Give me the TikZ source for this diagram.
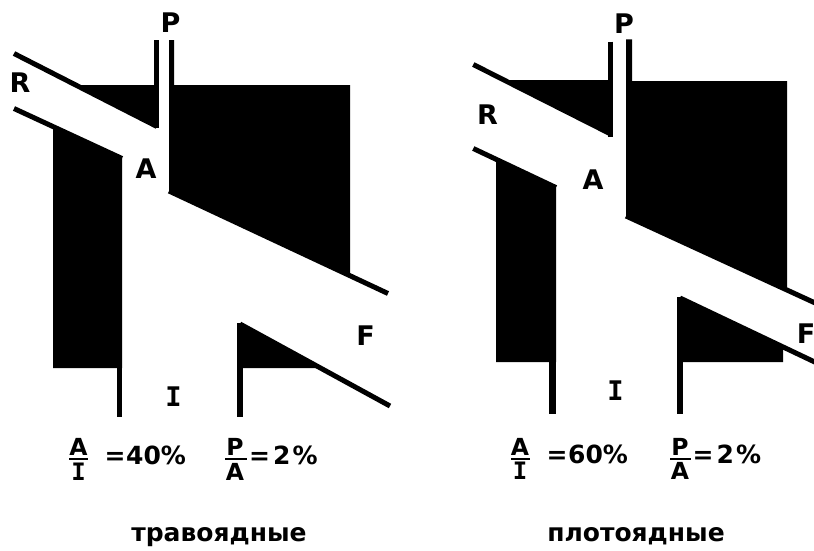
\documentclass[tikz,border=0pt]{standalone}
\usepackage{fontspec}
\setmainfont{DejaVu Sans}
\newfontfamily\serifmono{DejaVu Sans Mono Bold}
\begin{document}
\begin{tikzpicture}[x=1pt,y=-1pt,
  wall/.style={line width=5pt},
  lbl/.style={font=\fontsize{27}{27}\selectfont\bfseries, inner sep=0pt},
  lblI/.style={font=\fontsize{27}{27}\selectfont\serifmono, inner sep=0pt},
  frac/.style={font=\fontsize{23.5}{23.5}\selectfont\bfseries, inner sep=0pt},
  fracI/.style={font=\fontsize{24}{24}\selectfont\serifmono, inner sep=0pt},
  eqtxt/.style={font=\fontsize{25}{25}\selectfont\bfseries, inner sep=0pt, anchor=base west},
  word/.style={font=\fontsize{25}{25}\selectfont\bfseries, inner sep=0pt, anchor=base},
  bar/.style={line width=2pt}]
\useasboundingbox (0,0) rectangle (814,550);
\clip (0,0) rectangle (814,550);

% ---------------- left diagram (herbivores) ----------------
% upper R wall and triangle
\fill (75,85) -- (157,85) -- (157,127) -- cycle;
\draw[wall] (14,53.5) -- (157,126.5);
% P channel left wall
\draw[wall] (156,40) -- (156,128);
% P right wall and big block
\fill (169,40) -- (174,40) -- (174,85) -- (350,85) -- (350,276) -- (169,191) -- cycle;
\draw[wall] (169,191) -- (388,293.5);
% lower R wall and left block
\fill (53,126.5) -- (122,158) -- (122,368) -- (53,368) -- cycle;
\draw[wall] (14,108.5) -- (122,158.5);
\fill (116.5,360) rectangle (122,417);
% lower right triangle (F)
\fill (237,323) -- (322,368) -- (237,368) -- cycle;
\fill (237,323) rectangle (243,417);
\draw[wall] (240,324) -- (390,406);

\node[lbl]  (pL) at (170.5,23)  {P};
\node[lbl]  (rL) at (20,83)     {R};
\node[lbl]  (aL) at (146,168.5) {A};
\node[lbl]  (fL) at (365.5,336) {F};
\node[lblI] (iL) at (173.5,397) {I};

% ---------------- right diagram (carnivores) ----------------
\fill (505,80) -- (611,80) -- (611,134.5) -- cycle;
\draw[wall] (473.3,64.5) -- (611.7,134.5);
\draw[wall] (610.5,41.5) -- (610.5,137);
\fill (626,39.3) -- (632,39.3) -- (632,81) -- (787,81) -- (787,290) -- (626,216) -- cycle;
\draw[wall] (626,216) -- (820,305.2);
\fill (496,159.2) -- (556,187.5) -- (556,362) -- (496,362) -- cycle;
\draw[wall] (473.3,148.5) -- (556,187.6);
\fill (549,355) rectangle (556,414);
\fill (677,297) -- (783,347) -- (783,362) -- (677,362) -- cycle;
\fill (677,297) rectangle (683,414);
\draw[wall] (680,298) -- (820,364.5);

\node[lbl]  (pR) at (624,24)    {P};
\node[lbl]  (rR) at (487.5,115) {R};
\node[lbl]  (aR) at (593,180)   {A};
\node[lbl]  (fR) at (806,334)   {F};
\node[lblI] (iR) at (615.5,390.5) {I};

% ---------------- ratios ----------------
\node[frac]  (nAL) at (78.5,447) {A};
\draw[bar] (69,458.5) -- (88,458.5);
\node[fracI] (dIL) at (78.5,471.5) {I};
\node[eqtxt] (eAL) at (104.5,464) {=\kern0.5pt40\%};

\node[frac]  (nPL) at (235,447) {P};
\node[frac] (dAL) at (235,471.5) {A};
\draw[bar] (225,458.5) -- (247,458.5);
\node[eqtxt] (ePL) at (249,464) {=\kern3pt2\kern2pt\%};

\node[frac]  (nAR) at (520,446.5) {A};
\draw[bar] (511,458.5) -- (530,458.5);
\node[fracI] (dIR) at (520,471) {I};
\node[eqtxt] (eAR) at (546.5,463) {=\kern0.5pt60\%};

\node[frac]  (nPR) at (680,446.5) {P};
\node[frac]  (dAR) at (680,471) {A};
\draw[bar] (670,458.5) -- (691,458.5);
\node[eqtxt] (ePR) at (692.5,463) {=\kern3pt2\kern2pt\%};

% ---------------- captions ----------------
\node[word] (herb) at (219,541) {травоядные};
\node[word] (carn) at (636,541) {плотоядные};
\end{tikzpicture}
\end{document}
